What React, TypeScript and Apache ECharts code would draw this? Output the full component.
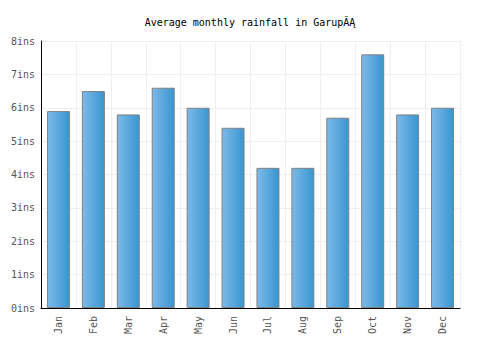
import React, { useEffect, useRef } from "react";
import * as echarts from "echarts";

const months = ["Jan", "Feb", "Mar", "Apr", "May", "Jun", "Jul", "Aug", "Sep", "Oct", "Nov", "Dec"];
const rainfall = [5.9, 6.5, 5.8, 6.6, 6.0, 5.4, 4.2, 4.2, 5.7, 7.6, 5.8, 6.0];
const titleText = "Average monthly rainfall in GarupĂĄ";
const unit = "ins";

export default function App() {
  const ref = useRef<HTMLDivElement>(null);
  useEffect(() => {
    const chart = echarts.init(ref.current!, null, { renderer: "svg" });
    const mono = "DejaVu Sans Mono";
    chart.setOption({
      animation: false,
      title: {
        text: titleText,
        left: "center",
        top: 12,
        textStyle: { fontFamily: mono, fontSize: 10, fontWeight: "normal", color: "#000" },
      },
      grid: { left: 41, right: 40, top: 41, bottom: 42 },
      xAxis: {
        type: "category",
        data: months,
        axisLine: { lineStyle: { color: "#000", width: 1 } },
        axisTick: { show: false },
        splitLine: { show: true, lineStyle: { color: "#eeeeee" } },
        axisLabel: { rotate: 90, fontFamily: mono, fontSize: 10, color: "#555", margin: 8, interval: 0 },
      },
      yAxis: {
        type: "value",
        min: 0,
        max: 8,
        interval: 1,
        axisLine: { show: true, lineStyle: { color: "#000", width: 1 } },
        axisTick: { show: false },
        splitLine: { lineStyle: { color: "#eeeeee" } },
        axisLabel: { formatter: (v: number) => v + unit, fontFamily: mono, fontSize: 10, color: "#555", margin: 6 },
      },
      series: [
        {
          type: "bar",
          data: rainfall,
          barWidth: 23,
          itemStyle: {
            color: new echarts.graphic.LinearGradient(0, 0, 1, 0, [
              { offset: 0, color: "#7db9ea" },
              { offset: 1, color: "#3896cf" },
            ]),
            borderColor: "#808080",
            borderWidth: 1,
          },
        },
      ],
    });
    return () => chart.dispose();
  }, []);
  return <div ref={ref} style={{ width: 500, height: 350, position: "absolute", left: 0, top: 0 }} />;
}
